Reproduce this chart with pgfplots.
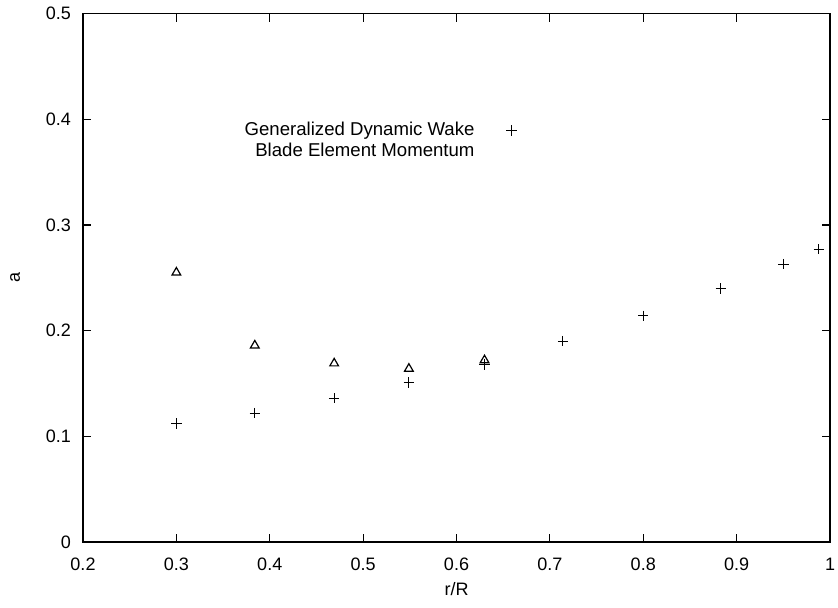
\documentclass[border=0pt]{standalone}
\usepackage{pgfplots}
\pgfplotsset{compat=1.18}
\usepackage{fontspec}
\setmainfont{Liberation Sans}

\begin{document}
\begin{tikzpicture}
\begin{axis}[
  at={(0,0)}, anchor=south west,
  width=373.5pt, height=264.25pt, scale only axis,
  xmin=0.2, xmax=1, ymin=0, ymax=0.5,
  xtick={0.2,0.3,...,1.0}, ytick={0,0.1,...,0.5},
  xticklabels={0.2,0.3,0.4,0.5,0.6,0.7,0.8,0.9,1},
  yticklabels={0,0.1,0.2,0.3,0.4,0.5},
  tick align=inside, major tick length=4pt,
  tick style={black, line width=0.6pt},
  axis line style={line width=0.6pt},
  tick label style={font=\fontsize{9}{11}\selectfont},
  xticklabel style={yshift=-4.5pt},
  yticklabel style={xshift=-2.5pt},
  /pgf/number format/assume math mode=true,
  xlabel={r/R}, ylabel={a},
  label style={font=\fontsize{9}{11}\selectfont},
  xlabel style={at={(axis description cs:0.5,-0.089)}, anchor=center},
  ylabel style={at={(axis description cs:-0.091,0.5)}, anchor=center},
  legend style={at={(axis cs:0.362,0.405)}, anchor=north west, draw=none, fill=none,
    font=\fontsize{9.3}{11}\selectfont, row sep=-2pt},
  legend cell align=right, legend plot pos=right,
]
\addplot[only marks, mark=+, mark size=2.6pt, black, line width=0.5pt,
  legend image post style={xshift=8pt}] coordinates {
  (0.300,0.112) (0.384,0.122) (0.469,0.136) (0.549,0.151) (0.630,0.168)
  (0.714,0.190) (0.800,0.214) (0.883,0.240) (0.950,0.263) (0.988,0.277)};
\addlegendentry{Generalized Dynamic Wake}
\addlegendimage{legend image code/.code={}}
\addlegendentry{Blade Element Momentum}
\addplot[only marks, mark=triangle, mark size=2.5pt, black, line width=0.6pt,
  mark options={fill=white}, forget plot] coordinates {
  (0.300,0.255) (0.384,0.186) (0.469,0.169) (0.549,0.164) (0.630,0.172)};
\end{axis}
\pgfresetboundingbox
\path[use as bounding box] (-41.5pt,-32.5pt) rectangle (377.5pt,271pt);
\end{tikzpicture}
\end{document}
